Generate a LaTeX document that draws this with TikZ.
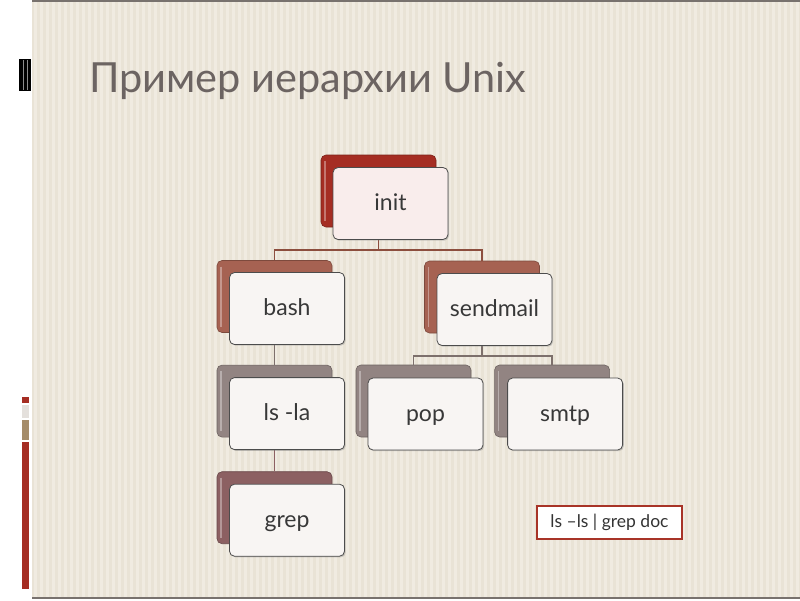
\documentclass[tikz,border=0pt]{standalone}
\usepackage{fontspec}
\setmainfont{Lato}
\usetikzlibrary{positioning, shadows}
\definecolor{paper}{RGB}{233, 227, 214}
\definecolor{paperStripe}{RGB}{240, 235, 225}
\definecolor{edgeGray}{RGB}{120, 114, 110}
\definecolor{titleGray}{RGB}{108, 100,  98}
\definecolor{initRed}{RGB}{165,  45,  35}
\definecolor{bashRed}{RGB}{166,  98,  82}
\definecolor{lsGray}{RGB}{146, 132, 130}
\definecolor{grepMauve}{RGB}{140,  96,  98}
\definecolor{linkRed}{RGB}{140,  78,  62}
\definecolor{linkGray}{RGB}{125, 112, 108}
\definecolor{frontFill}{RGB}{248, 245, 243}
\definecolor{initFront}{RGB}{249, 237, 236}
\definecolor{frameRed}{RGB}{168,  52,  40}
\definecolor{barTan}{RGB}{165, 140, 105}
\definecolor{barLight}{RGB}{228, 224, 220}
\tikzset{
  backbox/.style={
    draw=#1!75!black, fill=#1, rounded corners=5pt, line width=0.6pt,
    minimum width=115pt, minimum height=72pt, inner sep=0pt,
    path picture={
      \draw[white, opacity=0.35, line width=1.6pt]
        ([xshift=4pt, yshift=-6pt]path picture bounding box.north west) --
        ([xshift=4pt, yshift=6pt]path picture bounding box.south west);
    },
  },
  frontbox/.style={
    draw=black!70, fill=frontFill, rounded corners=5pt, line width=0.8pt,
    minimum width=115pt, minimum height=72pt, inner sep=0pt,
    text height=16pt, text depth=2pt,
    font=\fontsize{23}{26}\selectfont, text=black!78,
    drop shadow={opacity=0.35, shadow xshift=1.2pt, shadow yshift=-1.2pt},
  },
  link/.style={draw=#1, line width=1.8pt},
  cmdbox/.style={
    draw=frameRed, fill=white, line width=1.6pt,
    minimum width=145pt, minimum height=33pt, inner sep=0pt,
    font=\fontsize{17.5}{20}\selectfont, text=black!80,
  },
}

\begin{document}
\begin{tikzpicture}[x=1pt, y=-1pt, node distance=32pt]

% =========================================================================
% slide background
% =========================================================================

\useasboundingbox (0,0) rectangle (800,600);
\fill[white] (0,0) rectangle (800,600);
\fill[paper] (32,0) rectangle (800,598);
\foreach \x in {34,40,...,796}
  \fill[paperStripe] (\x,0) rectangle ++(2.5,598);
\draw[edgeGray, line width=2pt] (32,1) -- (800,1);
\draw[edgeGray, line width=2pt] (32,598) -- (800,598);

% side marks
\fill[black] (19,59) rectangle (31,91);
\foreach \x in {23,27}
  \draw[black!45, line width=0.6pt] (\x,60) -- (\x,90);
\fill[initRed]  (22,397) rectangle (29,403);
\fill[barLight] (22,405) rectangle (29,418);
\fill[barTan]   (22,420) rectangle (29,440);
\fill[initRed]  (22,442) rectangle (29,589);

% =========================================================================
% title
% =========================================================================

\node[anchor=base west, inner sep=0pt, text=titleGray,
      font=\fontsize{41.5}{48}\selectfont] (title) at (89,92)
   {Пример иерархии Unix};

% =========================================================================
% back boxes
% =========================================================================

\node[backbox=initRed] (init-b) at (378.5,191) {};
\node[backbox=bashRed] (bash-b) at (274.5,296.5) {};
\node[backbox=lsGray, below=of bash-b] (ls-b) {};
\node[backbox=grepMauve, below=34pt of ls-b] (grep-b) {};
\node[backbox=bashRed] (sendmail-b) at (482,297) {};
\node[backbox=lsGray] (pop-b) at (413.5,401) {};
\node[backbox=lsGray, right=23pt of pop-b] (smtp-b) {};

% =========================================================================
% connectors
% =========================================================================

\foreach \c in {bash-b, sendmail-b}
  \draw[link=linkRed] (init-b.south) -- ++(0,23) -| (\c.north);
\draw[link=linkGray] (bash-b.south) -- (ls-b.north);
\draw[link=grepMauve] (ls-b.south) -- (grep-b.north);
\foreach \c in {pop-b, smtp-b}
  \draw[link=linkGray] (sendmail-b.south) -- ++(0,23) -| (\c.north);

% =========================================================================
% front boxes
% =========================================================================

\node[frontbox, fill=initFront] (init) at ([shift={(12,12.5)}]init-b.center) {init};
\node[frontbox] (bash) at ([shift={(12.5,12)}]bash-b.center) {bash};
\node[frontbox] (ls) at ([shift={(12.5,12.5)}]ls-b.center) {ls -la};
\node[frontbox] (grep) at ([shift={(12.5,12.5)}]grep-b.center) {grep};
\node[frontbox] (sendmail) at ([shift={(12.5,12.5)}]sendmail-b.center) {sendmail};
\node[frontbox] (pop) at ([shift={(12,13)}]pop-b.center) {pop};
\node[frontbox] (smtp) at ([shift={(13,13)}]smtp-b.center) {smtp};

% =========================================================================
% command line
% =========================================================================

\node[cmdbox] (cmd) at (609.5,522.5) {ls –ls | grep doc};

\end{tikzpicture}
\end{document}
